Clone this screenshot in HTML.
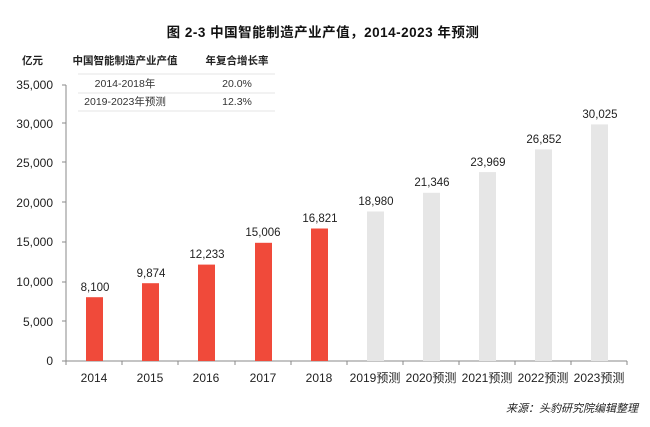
<!DOCTYPE html>
<html><head><meta charset="utf-8"><style>
body{margin:0;background:#fff;}
svg{display:block;font-family:"Liberation Sans","Noto Sans CJK SC",sans-serif;}
</style></head><body>
<svg width="650" height="427" viewBox="0 0 650 427" xmlns="http://www.w3.org/2000/svg">
<text x="323" y="37" text-anchor="middle" font-size="13.5" font-weight="bold" fill="#111" letter-spacing="0.5">图  2-3  中国智能制造产业产值，2014-2023 年预测</text>
<text x="22" y="64" font-size="10.5" font-weight="bold" fill="#222">亿元</text>
<text x="125" y="64" text-anchor="middle" font-size="10.5" font-weight="bold" fill="#222">中国智能制造产业产值</text>
<text x="237" y="64" text-anchor="middle" font-size="10.5" font-weight="bold" fill="#222">年复合增长率</text>
<line x1="78" y1="74" x2="275" y2="74" stroke="#e4e4e4"/>
<text x="125" y="87" text-anchor="middle" font-size="10.5" fill="#333">2014-2018年</text>
<text x="237" y="87" text-anchor="middle" font-size="10.5" fill="#333">20.0%</text>
<line x1="78" y1="93" x2="275" y2="93" stroke="#e4e4e4"/>
<text x="125" y="105" text-anchor="middle" font-size="10.5" fill="#333">2019-2023年预测</text>
<text x="237" y="105" text-anchor="middle" font-size="10.5" fill="#333">12.3%</text>
<line x1="78" y1="111" x2="275" y2="111" stroke="#e4e4e4"/>
<g font-size="12" fill="#222" text-anchor="end">
<text x="53" y="365">0</text><text x="53" y="326">5,000</text><text x="53" y="286">10,000</text><text x="53" y="246">15,000</text><text x="53" y="207">20,000</text><text x="53" y="167">25,000</text><text x="53" y="128">30,000</text><text x="53" y="89">35,000</text>
</g>
<g stroke="#888" stroke-width="1">
<line x1="66" y1="85" x2="66" y2="361"/>
<line x1="62" y1="85" x2="66" y2="85"/><line x1="62" y1="123" x2="66" y2="123"/><line x1="62" y1="162" x2="66" y2="162"/><line x1="62" y1="202" x2="66" y2="202"/><line x1="62" y1="242" x2="66" y2="242"/><line x1="62" y1="282" x2="66" y2="282"/><line x1="62" y1="321" x2="66" y2="321"/>
<line x1="62" y1="361" x2="627" y2="361"/>
<line x1="66" y1="361" x2="66" y2="365"/><line x1="122" y1="361" x2="122" y2="365"/><line x1="178" y1="361" x2="178" y2="365"/><line x1="235" y1="361" x2="235" y2="365"/><line x1="291" y1="361" x2="291" y2="365"/><line x1="347" y1="361" x2="347" y2="365"/><line x1="403" y1="361" x2="403" y2="365"/><line x1="459" y1="361" x2="459" y2="365"/><line x1="515" y1="361" x2="515" y2="365"/><line x1="571" y1="361" x2="571" y2="365"/><line x1="627" y1="361" x2="627" y2="365"/>
</g>
<g fill="#f04a3a">
<rect x="86" y="297.2" width="17" height="63.8"/>
<rect x="142" y="283.2" width="17" height="77.8"/>
<rect x="198" y="264.6" width="17" height="96.4"/>
<rect x="255" y="242.8" width="17" height="118.2"/>
<rect x="311" y="228.5" width="17" height="132.5"/>
</g>
<g fill="#e6e6e6">
<rect x="367" y="211.5" width="17" height="149.5"/>
<rect x="423" y="192.8" width="17" height="168.2"/>
<rect x="479" y="172.1" width="17" height="188.9"/>
<rect x="535" y="149.4" width="17" height="211.6"/>
<rect x="591" y="124.4" width="17" height="236.6"/>
</g>
<g font-size="11.5" fill="#222" text-anchor="middle">
<text x="95" y="291">8,100</text>
<text x="151" y="277">9,874</text>
<text x="207" y="258">12,233</text>
<text x="263" y="236">15,006</text>
<text x="320" y="222">16,821</text>
<text x="376" y="205">18,980</text>
<text x="432" y="186">21,346</text>
<text x="488" y="166">23,969</text>
<text x="544" y="143">26,852</text>
<text x="600" y="118">30,025</text>
</g>
<g font-size="12" fill="#222" text-anchor="middle">
<text x="94" y="382">2014</text><text x="150" y="382">2015</text><text x="206" y="382">2016</text><text x="263" y="382">2017</text><text x="319" y="382">2018</text>
<text x="375" y="382">2019预测</text><text x="431" y="382">2020预测</text><text x="487" y="382">2021预测</text><text x="543" y="382">2022预测</text><text x="599" y="382">2023预测</text>
</g>
<text x="638" y="412" text-anchor="end" font-size="11" font-style="italic" fill="#222">来源：头豹研究院编辑整理</text>
</svg>
</body></html>
